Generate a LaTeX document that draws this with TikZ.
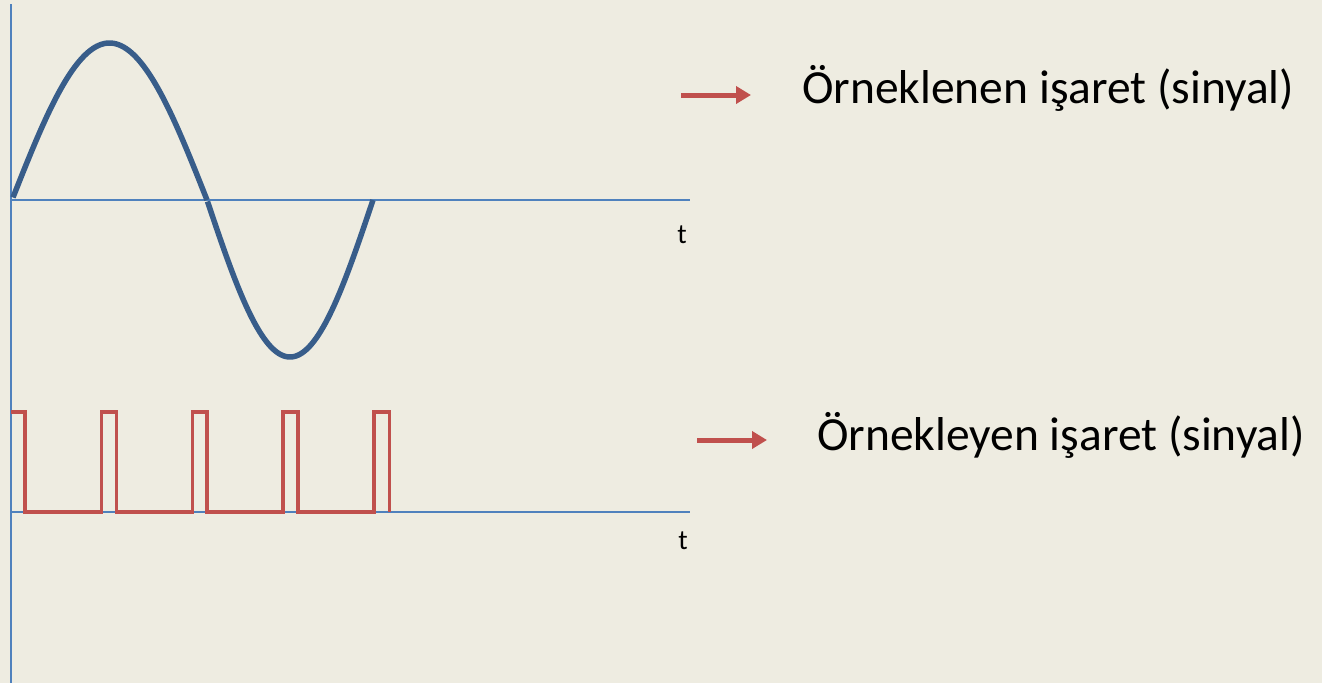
\documentclass[tikz,border=0pt]{standalone}
\usepackage{fontspec}
\setmainfont{Carlito}
\usetikzlibrary{arrows.meta}
\definecolor{bg}{HTML}{EEECE1}
\definecolor{axisblue}{HTML}{4F81BD}
\definecolor{sineblue}{HTML}{385D8A}
\definecolor{pulsered}{HTML}{C0504D}
\begin{document}
\begin{tikzpicture}[x=1pt,y=-1pt,
  axisline/.style={draw=axisblue,line width=2.5pt},
  sineline/.style={draw=sineblue,line width=5.5pt},
  pulseline/.style={draw=pulsered,line width=3.2pt,line join=miter},
  redarrow/.style={draw=pulsered,line width=5pt,-{Triangle[length=15pt,width=17pt]}},
  label/.style={font=\fontsize{47.5}{56}\selectfont,anchor=base west,inner sep=0pt},
  tlabel/.style={font=\fontsize{28}{32}\selectfont,anchor=base,inner sep=0pt}]
\fill[bg] (0,0) rectangle (1322,683);
\useasboundingbox (0,0) rectangle (1322,683);
% axes
\coordinate (vtop) at (11,4);
\coordinate (vbot) at (11,683);
\coordinate (a1l) at (11,200);
\coordinate (a1r) at (690,200);
\coordinate (a2l) at (11,512);
\coordinate (a2r) at (690,512);
\draw[axisline] (vtop) -- (vbot);
\draw[axisline] (a1l) -- (a1r);
\draw[axisline] (a2l) -- (a2r);
\node[tlabel] (t1) at (682,243) {t};
\node[tlabel] (t2) at (683,549) {t};
% sine
\draw[sineline,line cap=butt] plot[domain=13:207,samples=80,smooth] (\x,{200-157*sin(0.923077*(\x-12))});
\draw[sineline,line cap=butt] plot[domain=207.5:373,samples=80,smooth] (\x,{200+157*sin(1.084337*(\x-207))});
% pulses
\draw[pulseline] (11,412) -- (25,412) -- (25,512) -- (101.5,512) -- (101.5,412) -- (116.5,412) -- (116.5,512)
  -- (192.5,512) -- (192.5,412) -- (207,412) -- (207,512) -- (283,512) -- (283,412) -- (298,412) -- (298,512)
  -- (374,512) -- (374,412) -- (389.5,412) -- (389.5,512);
% arrows and labels
\coordinate (ar1s) at (681,95);
\coordinate (ar1e) at (751,95);
\coordinate (ar2s) at (697,440);
\coordinate (ar2e) at (767,440);
\draw[redarrow] (ar1s) -- (ar1e);
\draw[redarrow] (ar2s) -- (ar2e);
\node[label] (l1) at (802,103.5) {Örneklenen işaret (sinyal)};
\node[label] (l2) at (817,450) {Örnekleyen işaret (sinyal)};
\end{tikzpicture}
\end{document}
